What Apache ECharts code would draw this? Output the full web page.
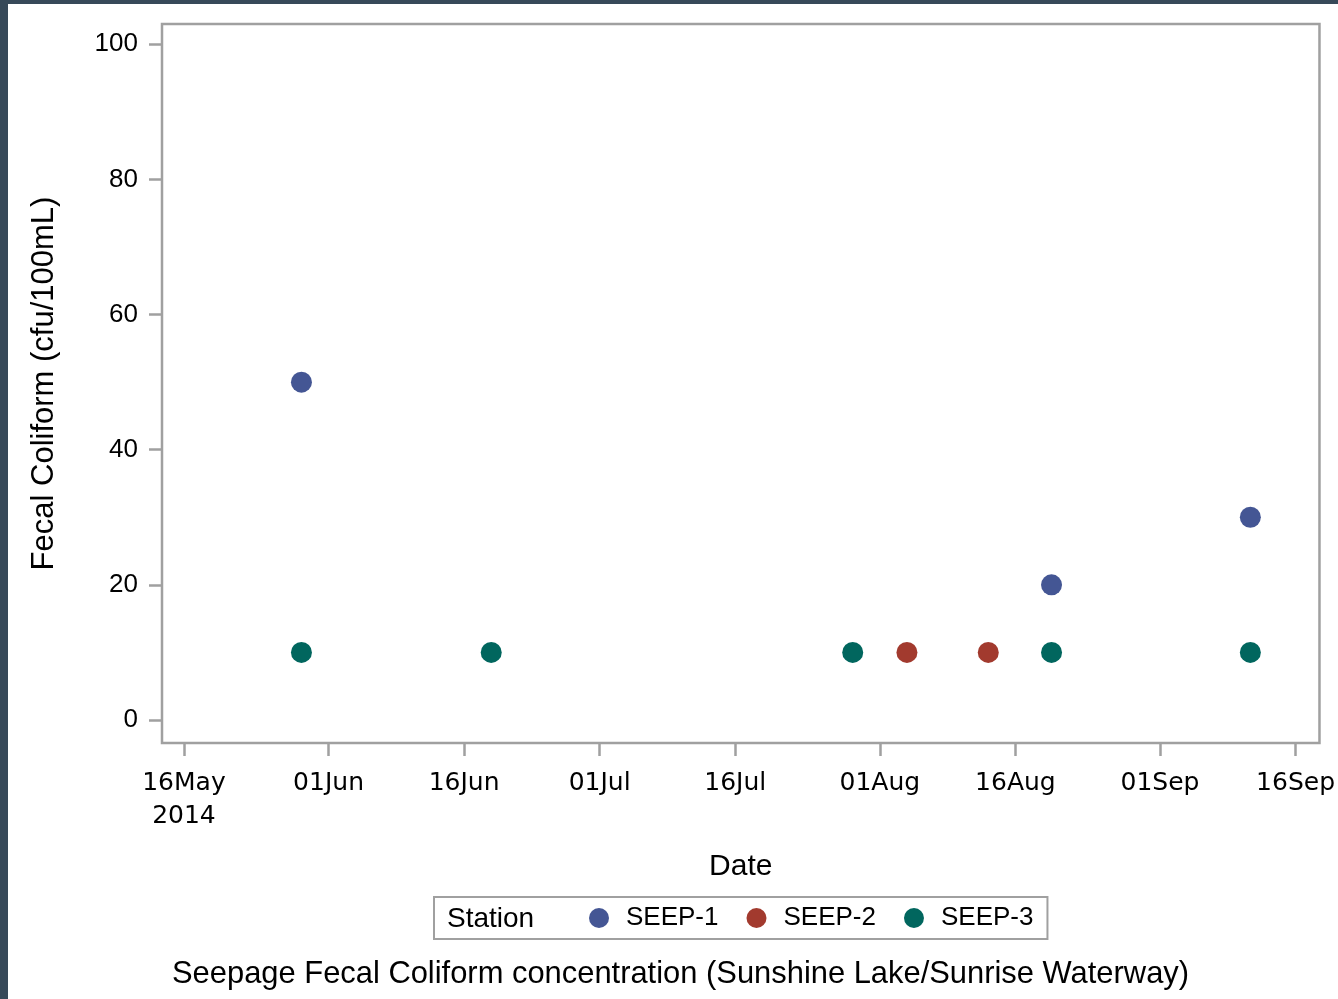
<!DOCTYPE html>
<html>
<head>
<meta charset="utf-8">
<script src="https://cdn.jsdelivr.net/npm/echarts@6/dist/echarts.min.js"></script>
<style>
html,body{margin:0;padding:0;background:#fff;}
#chart{width:1338px;height:999px;}
</style>
</head>
<body>
<div id="chart"></div>
<script>
// ---- data ----
const tickDates = ['2014-05-16','2014-06-01','2014-06-16','2014-07-01','2014-07-16','2014-08-01','2014-08-16','2014-09-01','2014-09-16'];
const yTicks = [0, 20, 40, 60, 80, 100];
const stations = ['SEEP-1', 'SEEP-2', 'SEEP-3'];
const seep1Dates = ['2014-05-29', '2014-08-20', '2014-09-11'];
const seep1Values = [50, 20, 30];
const seep2Dates = ['2014-08-04', '2014-08-13'];
const seep2Values = [10, 10];
const seep3Dates = ['2014-05-29', '2014-06-19', '2014-07-29', '2014-08-20', '2014-09-11'];
const seep3Values = [10, 10, 10, 10, 10];
const colors = ['#445694', '#A23A2E', '#01665E'];
const monthNames = ['Jan','Feb','Mar','Apr','May','Jun','Jul','Aug','Sep','Oct','Nov','Dec'];

function ts(s) { const p = s.split('-').map(Number); return Date.UTC(p[0], p[1] - 1, p[2]); }
function pairs(d, v) { return d.map((x, i) => [ts(x), v[i]]); }
const DAY = 86400000;
const xMin = ts('2014-05-16') - 2.43 * DAY;
const xMax = ts('2014-09-16') + 2.65 * DAY;

const chart = echarts.init(document.getElementById('chart'));
const option = {
  animation: false,
  backgroundColor: '#ffffff',
  grid: { left: 162, right: 18, top: 24, bottom: 256, show: true, borderColor: '#a0a0a0', borderWidth: 2.5, backgroundColor: 'transparent' },
  xAxis: {
    type: 'value',
    min: xMin, max: xMax,
    name: 'Date', nameLocation: 'middle', nameGap: 109,
    nameTextStyle: { fontFamily: 'Liberation Sans', fontSize: 30, color: '#000' },
    axisLine: { show: false, onZero: false },
    splitLine: { show: false },
    axisTick: { show: true, inside: false, length: 13, lineStyle: { color: '#a0a0a0', width: 2.5 }, customValues: tickDates.map(ts) },
    axisLabel: {
      customValues: tickDates.map(ts),
      margin: 24,
      fontFamily: 'DejaVu Sans', fontSize: 25, color: '#000', lineHeight: 33,
      formatter: function (v) {
        const d = new Date(v);
        const dd = String(d.getUTCDate()).padStart(2, '0');
        let s = dd + monthNames[d.getUTCMonth()];
        if (d.getTime() === ts(tickDates[0])) s += '\n' + d.getUTCFullYear();
        return s;
      }
    }
  },
  yAxis: {
    type: 'value',
    min: -3.4, max: 103.0,
    name: 'Fecal Coliform (cfu/100mL)', nameLocation: 'middle', nameGap: 102,
    nameTextStyle: { fontFamily: 'Liberation Sans', fontSize: 31, color: '#000' },
    axisLine: { show: false, onZero: false },
    splitLine: { show: false },
    axisTick: { show: true, inside: false, length: 13, lineStyle: { color: '#a0a0a0', width: 2.5 }, customValues: yTicks },
    axisLabel: { customValues: yTicks, margin: 24, fontFamily: 'Liberation Sans', fontSize: 26, color: '#000' }
  },
  legend: {
    data: stations,
    left: 434, top: 897,
    orient: 'horizontal',
    icon: 'circle', itemWidth: 20, itemHeight: 20, itemGap: 28,
    padding: [8, 14, 8, 155],
    borderColor: '#a0a0a0', borderWidth: 2,
    textStyle: { fontFamily: 'Liberation Sans', fontSize: 26, color: '#000', padding: [0, 0, 0, 12] }
  },
  graphic: [
    { type: 'rect', shape: { x: 0, y: 0, width: 1338, height: 4 }, style: { fill: '#374959' }, silent: true },
    { type: 'rect', shape: { x: 0, y: 0, width: 8, height: 999 }, style: { fill: '#374959' }, silent: true },
    { type: 'text', left: 447, top: 905, style: { text: 'Station', font: '28px "Liberation Sans"', fill: '#000' } },
    { type: 'text', left: 172, top: 959, style: { text: 'Seepage Fecal Coliform concentration (Sunshine Lake/Sunrise Waterway)', font: '30.9px "Liberation Sans"', fill: '#000' } }
  ],
  series: [
    { name: 'SEEP-1', type: 'scatter', symbol: 'circle', symbolSize: 21, itemStyle: { color: colors[0], opacity: 1 }, data: pairs(seep1Dates, seep1Values) },
    { name: 'SEEP-2', type: 'scatter', symbol: 'circle', symbolSize: 21, itemStyle: { color: colors[1], opacity: 1 }, data: pairs(seep2Dates, seep2Values) },
    { name: 'SEEP-3', type: 'scatter', symbol: 'circle', symbolSize: 21, itemStyle: { color: colors[2], opacity: 1 }, data: pairs(seep3Dates, seep3Values) }
  ]
};
chart.setOption(option);
</script>
</body>
</html>
